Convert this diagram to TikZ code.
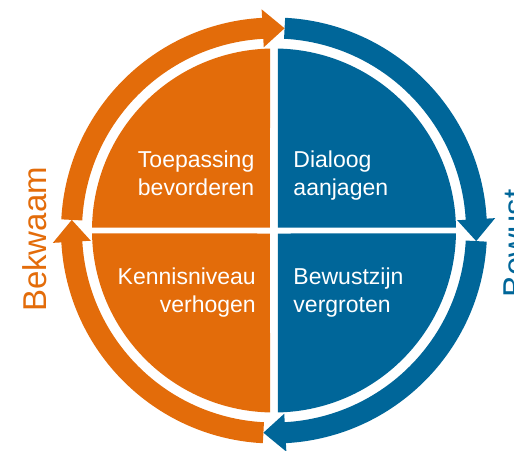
\documentclass[tikz,border=0pt]{standalone}
\usepackage{fontspec}
\setmainfont{Liberation Sans}
\definecolor{cOrange}{HTML}{E36C0A}
\definecolor{cBlue}{HTML}{006699}
\newcommand\ringarrow[3]{%
  \fill[#1] (#2:213) arc[start angle=#2, end angle={#3+6.2}, radius=213]
    -- ({#3+6.2}:221.5) -- (#3:202.5) -- ({#3+6.2}:183.5) -- ({#3+6.2}:192)
    arc[start angle={#3+6.2}, end angle=#2, radius=192] -- cycle;}
\begin{document}
\begin{tikzpicture}[x=1pt,y=1pt,
  quadtext/.style={text=white, font=\fontsize{23}{28}\selectfont, inner sep=0pt},
  sidetext/.style={font=\fontsize{33}{40}\selectfont, inner sep=0pt, rotate=90, anchor=base}]
\useasboundingbox (-274,-219.5) rectangle (240,230.5);
% quadrants
\fill[cOrange] (-4,3) -- (91.26:182) arc[start angle=91.26, end angle=179.06, radius=182] -- cycle;
\fill[cBlue] (4,3) -- (0.94:182) arc[start angle=0.94, end angle=88.74, radius=182] -- cycle;
\fill[cBlue] (4,-3) -- (-88.74:182) arc[start angle=-88.74, end angle=-0.94, radius=182] -- cycle;
\fill[cOrange] (-4,-3) -- (180.94:182) arc[start angle=180.94, end angle=268.74, radius=182] -- cycle;
% ring arrows
\ringarrow{cOrange}{177}{87}
\ringarrow{cBlue}{87}{-3}
\ringarrow{cBlue}{-3}{-93}
\ringarrow{cOrange}{267}{177}
% texts
\node[quadtext, anchor=north east, align=right] (tl) at (-19.5,79.5) {Toepassing\\bevorderen};
\node[quadtext, anchor=north west, align=left] (tr) at (19.3,79.5) {Dialoog\\aanjagen};
\node[quadtext, anchor=north east, align=right] (bl) at (-18,-37.5) {Kennisniveau\\verhogen};
\node[quadtext, anchor=north west, align=left] (br) at (19.3,-37.5) {Bewustzijn\\vergroten};
\node[sidetext, text=cOrange] (bekwaam) at (-227,-9) {Bekwaam};
\node[sidetext, text=cBlue] (bewust) at (252.6,-13) {Bewust};
\end{tikzpicture}
\end{document}
